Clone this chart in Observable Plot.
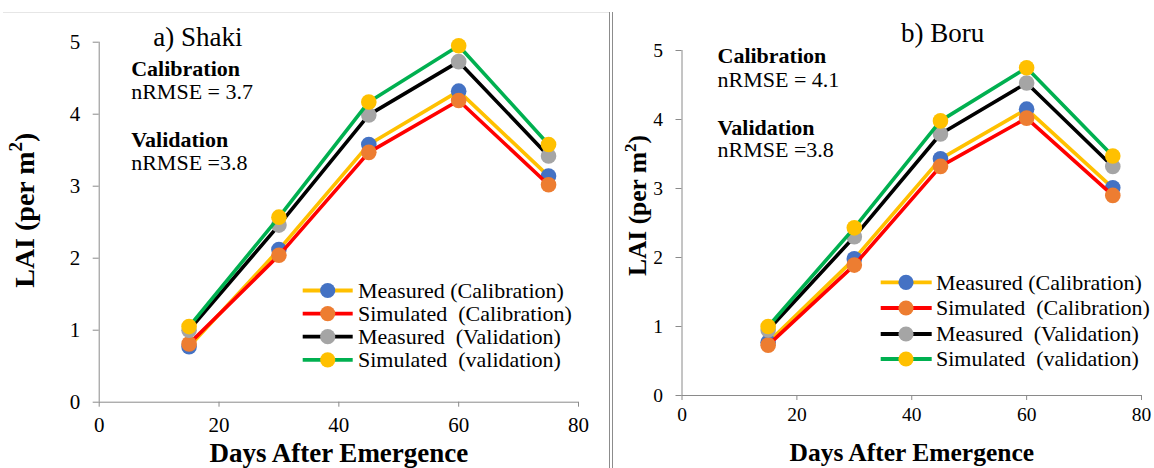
<!DOCTYPE html>
<html><head><meta charset="utf-8">
<script src="https://cdn.jsdelivr.net/npm/d3@7"></script>
<script src="https://cdn.jsdelivr.net/npm/@observablehq/plot@0.6"></script>
<style>
html,body{margin:0;padding:0;background:#fff;}
#wrap{position:relative;width:1154px;height:468px;overflow:hidden;background:#fff;}
#left{position:absolute;left:0;top:0;}
#right{position:absolute;left:614px;top:0;}
.sep{position:absolute;top:12px;bottom:0;width:0;border-left:1px solid #8c8c8c;}
.topline{position:absolute;top:12px;left:3px;width:607px;height:0;border-top:1px solid #e6e6e6;}
#wrap svg text{white-space:pre;font-family:"Liberation Serif","Times New Roman","DejaVu Serif",serif !important;}
</style></head><body>
<div id="wrap">
  <div class="topline"></div>
  <div id="left"></div>
  <div id="right"></div>
  <div class="sep" style="left:609px"></div>
  <div class="sep" style="left:612px"></div>
</div>
<script>
// ---- data ----
const days = [15, 30, 45, 60, 75];
const seriesNames = ["Measured (Calibration)", "Simulated  (Calibration)", "Measured  (Validation)", "Simulated  (validation)"];
const lineColors = ["#FFC000", "#FF0000", "#000000", "#00B050"];
const markerColors = ["#4472C4", "#ED7D31", "#A5A5A5", "#FFC000"];

const shakiMeasuredCal  = [0.77, 2.12, 3.58, 4.32, 3.14];
const shakiSimulatedCal = [0.81, 2.04, 3.47, 4.19, 3.02];
const shakiMeasuredVal  = [1.00, 2.46, 3.99, 4.73, 3.42];
const shakiSimulatedVal = [1.05, 2.57, 4.17, 4.95, 3.58];

const boruMeasuredCal  = [0.77, 1.98, 3.43, 4.15, 3.01];
const boruSimulatedCal = [0.73, 1.89, 3.32, 4.02, 2.90];
const boruMeasuredVal  = [0.95, 2.30, 3.79, 4.53, 3.32];
const boruSimulatedVal = [1.00, 2.43, 3.98, 4.75, 3.47];

const xTicks = [0, 20, 40, 60, 80];
const yTicks = [0, 1, 2, 3, 4, 5];
const xLabel = "Days After Emergence";
const yLabel = "LAI (per m²)";
const panelTitles = ["a) Shaki", "b) Boru"];
const calibrationLabel = "Calibration";
const validationLabel = "Validation";
const calibrationNRMSE = ["nRMSE = 3.7", "nRMSE = 4.1"];
const validationNRMSE = ["nRMSE =3.8", "nRMSE =3.8"];

const axisGray = "#8a8a8a";

function panel(cfg) {
  const series = cfg.series;
  const data = [];
  series.forEach((vals, i) => vals.forEach((v, j) => data.push({idx: i, day: days[j], lai: v})));
  const marks = [
    Plot.ruleY([0], {stroke: axisGray, strokeWidth: 1}),
    Plot.ruleX([0], {stroke: axisGray, strokeWidth: 1}),
    Plot.axisX({ticks: xTicks, tickSize: 5, tickPadding: cfg.xPad, stroke: axisGray, fill: "#000", label: null, fontSize: cfg.tickFont, tickFormat: d => String(d)}),
    Plot.axisY({ticks: yTicks, tickSize: 6, tickPadding: 13, stroke: axisGray, fill: "#000", label: null, fontSize: cfg.tickFont, tickFormat: d => String(d)})
  ];
  series.forEach((vals, i) => {
    const d = data.filter(e => e.idx === i);
    marks.push(Plot.line(d, {x: "day", y: "lai", stroke: lineColors[i], strokeWidth: 3.6}));
    marks.push(Plot.dot(d, {x: "day", y: "lai", r: 7.8, fill: markerColors[i], stroke: "none"}));
  });
  const txt = (s, o) => Plot.text([s], Object.assign({text: d => d, frameAnchor: "top-left", textAnchor: "start", lineAnchor: "bottom", fill: "#000"}, o));
  marks.push(txt(cfg.title, {dx: cfg.titleDx, dy: cfg.titleDy, fontSize: 27}));
  marks.push(txt(calibrationLabel, {dx: cfg.annDx, dy: cfg.annDy[0], fontSize: 22, fontWeight: "bold"}));
  marks.push(txt(cfg.calN, {dx: cfg.annDx, dy: cfg.annDy[1], fontSize: 22}));
  marks.push(txt(validationLabel, {dx: cfg.annDx, dy: cfg.annDy[2], fontSize: 22, fontWeight: "bold"}));
  marks.push(txt(cfg.valN, {dx: cfg.annDx, dy: cfg.annDy[3], fontSize: 22}));
  marks.push(Plot.text([xLabel], {text: d => d, frameAnchor: "bottom", lineAnchor: "bottom", dy: cfg.xLabelDy, fontSize: cfg.xLabelFont, fontWeight: "bold", fill: "#000"}));
  marks.push(Plot.text([yLabel], {text: d => d, frameAnchor: "left", rotate: -90, textAnchor: "middle", lineAnchor: "bottom", dx: cfg.yLabelDx, dy: cfg.yLabelDy, fontSize: cfg.labelFont, fontWeight: "bold", fill: "#000"}));

  const chart = Plot.plot({
    width: cfg.width, height: 468,
    marginLeft: cfg.ml, marginRight: cfg.mr, marginTop: cfg.mt, marginBottom: cfg.mb,
    x: {domain: [0, 80]},
    y: {domain: [0, 5]},
    style: {fontSize: cfg.tickFont + "px", background: "transparent", color: "#000", overflow: "visible"},
    marks
  });

  const svg = d3.select(chart);

  // real superscript for the "2" in the y label
  svg.selectAll("text").filter(function() { return this.textContent === yLabel; }).each(function() {
    const t = d3.select(this);
    const sup = Math.round(cfg.labelFont * 0.68);
    const [base, rest] = yLabel.split("²");
    t.text(null);
    t.append("tspan").text(base);
    t.append("tspan").attr("dy", -cfg.labelFont * 0.42).attr("font-size", sup).text("2");
    t.append("tspan").attr("dy", cfg.labelFont * 0.42).text(rest);
  });

  // legend
  const g = svg.append("g").attr("font-size", 22).attr("text-anchor", "start");
  seriesNames.forEach((name, i) => {
    const y = cfg.legRows[i];
    g.append("line").attr("x1", cfg.legX1).attr("x2", cfg.legX2).attr("y1", y).attr("y2", y)
      .attr("stroke", lineColors[i]).attr("stroke-width", 3.8);
    g.append("circle").attr("cx", cfg.legM).attr("cy", y).attr("r", 7.6).attr("fill", markerColors[i]);
    g.append("text").attr("x", cfg.legT).attr("y", y).attr("dy", "0.33em").attr("fill", "#000")
      .attr("text-anchor", "start").style("white-space", "pre").text(name);
  });
  return chart;
}

document.getElementById("left").appendChild(panel({
  series: [shakiMeasuredCal, shakiSimulatedCal, shakiMeasuredVal, shakiSimulatedVal],
  width: 600, ml: 98.7, mr: 22, mt: 41.7, mb: 66.3,
  tickFont: 21, labelFont: 28, xLabelFont: 27, xPad: 10,
  title: panelTitles[0], titleDx: 54, titleDy: 3.3,
  annDx: 32, annDy: [33.3, 56.6, 104.3, 127.6],
  calN: calibrationNRMSE[0], valN: validationNRMSE[0],
  xLabelDy: 59.5, yLabelDx: -65, yLabelDy: -12,
  legX1: 302.7, legX2: 352.7, legM: 327.7, legT: 358, legRows: [290.5, 313.6, 336.7, 359.8]
}));

document.getElementById("right").appendChild(panel({
  series: [boruMeasuredCal, boruSimulatedCal, boruMeasuredVal, boruSimulatedVal],
  width: 540, ml: 67.5, mr: 13, mt: 50, mb: 73,
  tickFont: 19.5, labelFont: 25.5, xLabelFont: 25.5, xPad: 7,
  title: panelTitles[1], titleDx: 219, titleDy: -8.3,
  annDx: 35.5, annDy: [12.7, 36, 84, 106.7],
  calN: calibrationNRMSE[1], valN: validationNRMSE[1],
  xLabelDy: 65, yLabelDx: -35.7, yLabelDy: -17.5,
  legX1: 266.7, legX2: 317.7, legM: 292, legT: 322, legRows: [282.3, 308, 334, 359]
}));
</script>
</body></html>
